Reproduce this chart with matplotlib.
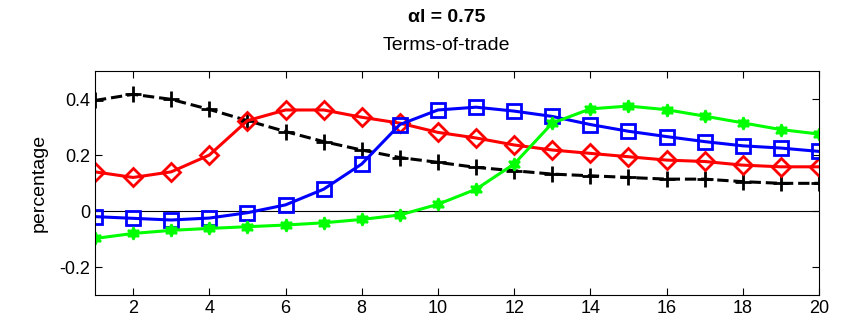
import matplotlib
matplotlib.use("Agg")
import matplotlib.pyplot as plt

plt.rcParams['font.family'] = ['Liberation Sans', 'DejaVu Sans']
plt.rcParams['font.size'] = 13

periods = list(range(1, 21))

tot_black = [0.395, 0.417, 0.399, 0.363, 0.323, 0.284, 0.248, 0.218, 0.191, 0.174,
             0.156, 0.144, 0.132, 0.126, 0.120, 0.114, 0.114, 0.105, 0.099, 0.099]
tot_red = [0.140, 0.120, 0.140, 0.200, 0.323, 0.361, 0.361, 0.335, 0.314, 0.281,
           0.261, 0.236, 0.218, 0.206, 0.194, 0.182, 0.177, 0.164, 0.158, 0.158]
tot_blue = [-0.020, -0.026, -0.032, -0.025, -0.006, 0.022, 0.078, 0.168, 0.309, 0.361,
            0.371, 0.357, 0.338, 0.309, 0.285, 0.266, 0.248, 0.233, 0.225, 0.213]
tot_green = [-0.098, -0.080, -0.069, -0.062, -0.056, -0.050, -0.042, -0.030, -0.014, 0.024,
             0.078, 0.168, 0.314, 0.365, 0.375, 0.362, 0.339, 0.315, 0.291, 0.275]

fig = plt.figure(figsize=(8.43, 3.26), dpi=100)
ax = fig.add_axes([0.1127, 0.095, 0.8588, 0.687])

ax.axhline(0, color='black', lw=0.8, zorder=1)

ax.plot(periods, tot_black, '--', color='black', lw=2.2, marker='+', ms=11, mew=2)
ax.plot(periods, tot_red, '-', color='red', lw=2.2, marker='D', ms=9,
        mfc='none', mec='red', mew=2)
ax.plot(periods, tot_blue, '-', color='blue', lw=2.2, marker='s', ms=9.5,
        mfc='none', mec='blue', mew=2)
ax.plot(periods, tot_green, '-', color='#00ff00', lw=2.2, marker=(6, 1, 0), ms=9,
        mfc='#00ff00', mec='#00ff00', mew=1.5)

ax.set_xlim(1, 20)
ax.set_ylim(-0.3, 0.5)
ax.set_xticks(range(2, 21, 2))
ax.set_yticks([-0.2, 0, 0.2, 0.4])
ax.set_yticklabels(['-0.2', '0', '0.2', '0.4'])
ax.tick_params(direction='in', top=True, right=True, length=5, labelsize=13)
ax.set_ylabel('percentage', fontsize=14, labelpad=8)

fig.text(0.53, 0.945, 'αl = 0.75', ha='center', va='center',
         fontsize=14, fontweight='bold')
fig.text(0.53, 0.86, 'Terms-of-trade', ha='center', va='center', fontsize=14)

fig.savefig('out.png', dpi=100)
